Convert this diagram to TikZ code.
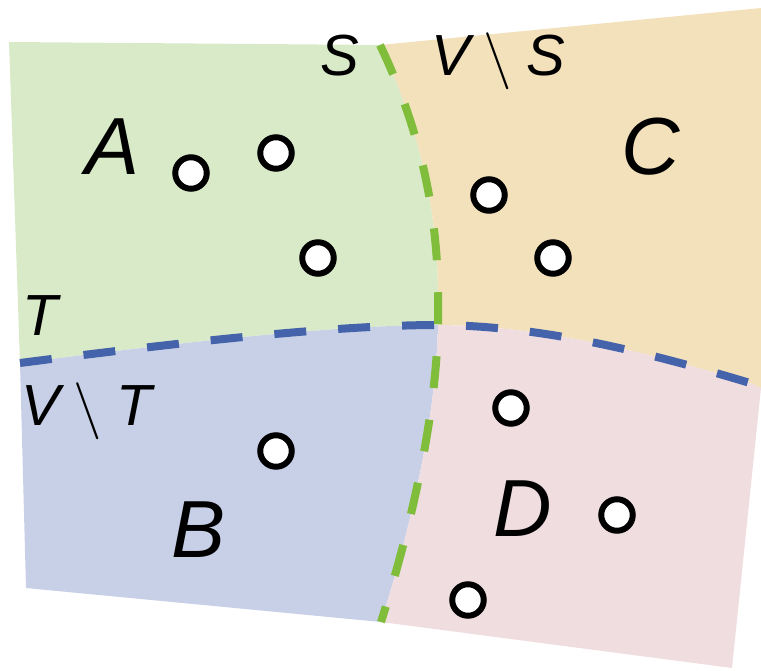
\documentclass[tikz,border=0pt]{standalone}
\usepackage{fontspec}
\setmainfont{Liberation Sans}
\definecolor{agreen}{RGB}{217,234,200}
\definecolor{ctan}{RGB}{242,225,187}
\definecolor{bblue}{RGB}{199,208,230}
\definecolor{dpink}{RGB}{240,221,224}
\definecolor{sgreen}{RGB}{127,189,58}
\definecolor{tblue}{RGB}{68,99,170}
\newcommand{\bigsetminus}{\scalebox{5.7}{\fontsize{10}{10}\selectfont$\setminus$}}
\begin{document}
\begin{tikzpicture}[x=1pt,y=-1pt,
  vtx/.style={circle,draw=black,fill=white,line width=6pt,minimum size=31.5pt,inner sep=0pt},
  big/.style={font=\fontsize{81}{81}\selectfont\itshape,inner sep=0pt,anchor=base},
  small/.style={font=\fontsize{58}{58}\selectfont\itshape,inner sep=0pt},
  cutS/.style={draw=sgreen,line width=8pt,dash pattern=on 32pt off 32pt},
  cutT/.style={draw=tblue,line width=8pt,dash pattern=on 32pt off 32pt}]
\useasboundingbox (0,0) rectangle (761,671);
\coordinate (TL) at (9,42);
\coordinate (Stop) at (380,45);
\coordinate (M) at (438,325);
\coordinate (Sbot) at (381,622);
\coordinate (Tl) at (20,363);
\coordinate (Tr) at (750,383);
\coordinate (Rmid) at (761,388);
\coordinate (TR) at (761,8);
\coordinate (BL) at (26,588);
\coordinate (BR) at (732,668);
% regions
\fill[agreen] (TL) -- (Stop) .. controls (430,150) and (440,240) .. (M)
  .. controls (330,325) and (160,345) .. (Tl) -- cycle;
\fill[ctan] (Stop) -- (TR) -- (Rmid) -- (Tr) .. controls (640,350) and (540,326) .. (M)
  .. controls (440,240) and (430,150) .. (Stop) -- cycle;
\fill[bblue] (Tl) .. controls (160,345) and (330,325) .. (M)
  .. controls (436,420) and (410,530) .. (Sbot) -- (BL) -- cycle;
\fill[dpink] (M) .. controls (540,326) and (640,350) .. (Tr) -- (Rmid) -- (BR) -- (Sbot)
  .. controls (410,530) and (436,420) .. (M) -- cycle;
% cuts
\draw[cutT] (Tl) .. controls (160,345) and (330,325) .. (M)
  .. controls (540,326) and (640,350) .. (Tr);
\draw[cutS] (Stop) .. controls (430,150) and (440,240) .. (M)
  .. controls (436,420) and (410,530) .. (Sbot);
% vertices
\node[vtx] (a1) at (191,173) {};
\node[vtx] (a2) at (276,153) {};
\node[vtx] (a3) at (318,258) {};
\node[vtx] (c1) at (489,195) {};
\node[vtx] (c2) at (553,258) {};
\node[vtx] (b1) at (276,451) {};
\node[vtx] (d1) at (511,408) {};
\node[vtx] (d2) at (617,515) {};
\node[vtx] (d3) at (468,600) {};
% labels
\node[big] (lA) at (113,175) {A};
\node[big] (lB) at (199,557) {B};
\node[big] (lC) at (651,175) {C};
\node[big] (lD) at (523,536) {D};
\node[small,anchor=base] (lS) at (340,76) {S};
\node[small,anchor=base] (lT) at (40,335) {T};
\node[small,anchor=base west] (lVS) at (431,76) {V\hspace{14pt}\bigsetminus\hspace{14pt}S};
\node[small,anchor=base west] (lVT) at (21,425) {V\hspace{14pt}\bigsetminus\hspace{14pt}T};
\end{tikzpicture}
\end{document}
